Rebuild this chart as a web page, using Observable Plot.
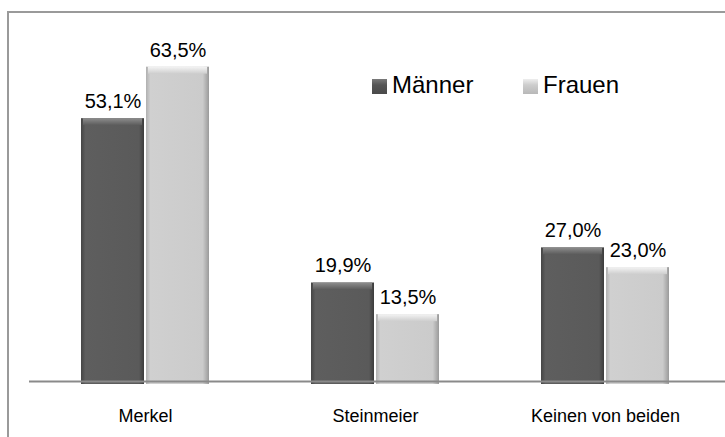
<!DOCTYPE html>
<html>
<head>
<meta charset="utf-8">
<script src="https://cdn.jsdelivr.net/npm/d3@7"></script>
<script src="https://cdn.jsdelivr.net/npm/@observablehq/plot@0.6"></script>
<style>
  html, body { margin: 0; padding: 0; background: #fff; }
  #wrap { position: relative; width: 725px; height: 437px; overflow: hidden; font-family: "Liberation Sans", Arial, sans-serif; }
  #border { position: absolute; left: 7px; top: 11px; width: 900px; height: 600px; border-left: 2px solid #9a9a9a; border-top: 2px solid #9a9a9a; }
  #chart { position: absolute; left: 0; top: 0; }
  .lg-box { position: absolute; width: 15px; height: 15px; }
  .lg-txt { position: absolute; font-size: 24px; line-height: 24px; color: #000; }
</style>
</head>
<body>
<div id="wrap">
  <div id="border"></div>
  <div id="chart"></div>
  <div class="lg-box" style="left:372px;top:79px;background:linear-gradient(#7a7a7a,#555 40%,#4a4a4a);"></div>
  <div class="lg-txt" style="left:392px;top:73px;">Männer</div>
  <div class="lg-box" style="left:523px;top:79px;background:linear-gradient(#eee,#cdcdcd 40%,#b8b8b8);"></div>
  <div class="lg-txt" style="left:543px;top:73px;">Frauen</div>
</div>
<script>
const categories = ["Merkel", "Steinmeier", "Keinen von beiden"];
const seriesNames = ["Männer", "Frauen"];
const maenner = [53.1, 19.9, 27.0];
const frauen = [63.5, 13.5, 23.0];

const dataM = categories.map((c, i) => ({cat: c, series: seriesNames[0], value: maenner[i]}));
const dataF = categories.map((c, i) => ({cat: c, series: seriesNames[1], value: frauen[i]}));
const fmt = v => v.toFixed(1).replace(".", ",") + "%";

const half = 65;
const chart = Plot.plot({
  width: 725,
  height: 437,
  marginLeft: 29,
  marginRight: 0,
  marginTop: 34.5,
  marginBottom: 56,
  style: {fontFamily: "'Liberation Sans', Arial, sans-serif", background: "transparent"},
  x: {domain: categories, range: [29, 720], paddingInner: 102 / 230, paddingOuter: 0.2235, axis: null},
  y: {domain: [0, 70], axis: null},
  marks: [
    Plot.barY(dataM, {x: "cat", y: "value", insetRight: half, insetBottom: -3, fill: "url(#gDark)"}),
    Plot.barY(dataF, {x: "cat", y: "value", insetLeft: half, insetBottom: -3, fill: "url(#gLight)"}),
    Plot.barY(dataM, {x: "cat", y1: "value", y2: "value", insetRight: half + 2, insetLeft: 2, insetBottom: -7, fill: "url(#gDarkTop)"}),
    Plot.barY(dataF, {x: "cat", y1: "value", y2: "value", insetLeft: half + 2, insetRight: 2, insetBottom: -7, fill: "url(#gLightTop)"}),
    Plot.ruleY([0], {stroke: "#8a8a8a", strokeWidth: 2}),
    Plot.text(dataM, {x: "cat", y: "value", text: d => fmt(d.value), dx: -32.5, dy: -17, fontSize: 20, fill: "#000"}),
    Plot.text(dataF, {x: "cat", y: "value", text: d => fmt(d.value), dx: 32.5, dy: -17, fontSize: 20, fill: "#000"}),
    Plot.axisX({anchor: "bottom", tickSize: 0, tickPadding: 28, fontSize: 18, label: null, color: "#000"})
  ]
});

// gradient definitions for the bevelled bars
const NS = "http://www.w3.org/2000/svg";
const defs = document.createElementNS(NS, "defs");
function grad(id, vertical, stops) {
  const g = document.createElementNS(NS, "linearGradient");
  g.setAttribute("id", id);
  g.setAttribute("x1", "0"); g.setAttribute("y1", "0");
  g.setAttribute("x2", vertical ? "0" : "1"); g.setAttribute("y2", vertical ? "1" : "0");
  for (const [o, c] of stops) {
    const s = document.createElementNS(NS, "stop");
    s.setAttribute("offset", o);
    s.setAttribute("stop-color", c);
    g.appendChild(s);
  }
  defs.appendChild(g);
}
grad("gDark", false, [["0", "#454545"], ["0.07", "#5e5e5e"], ["0.92", "#5a5a5a"], ["1", "#3c3c3c"]]);
grad("gLight", false, [["0", "#b0b0b0"], ["0.07", "#d0d0d0"], ["0.9", "#cbcbcb"], ["1", "#9a9a9a"]]);
grad("gDarkTop", true, [["0", "#8e8e8e"], ["1", "#5c5c5c"]]);
grad("gLightTop", true, [["0", "#f4f4f4"], ["1", "#cecece"]]);
chart.insertBefore(defs, chart.firstChild);

document.getElementById("chart").appendChild(chart);
</script>
</body>
</html>
